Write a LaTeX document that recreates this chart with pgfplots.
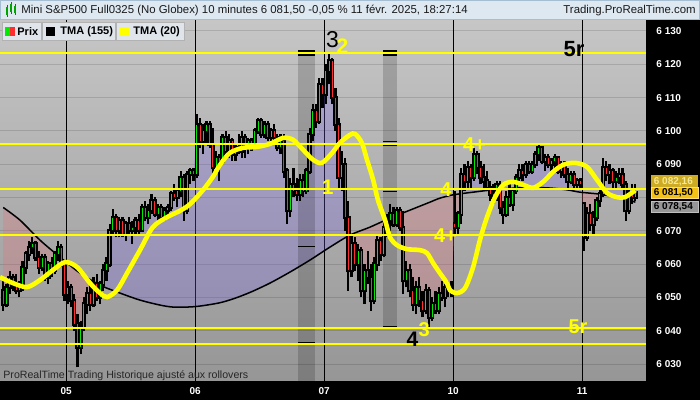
\documentclass[border=0pt]{standalone}
\usepackage{fontspec}
\setmainfont{Liberation Sans}
\usepackage{pgfplots}
\pgfplotsset{compat=1.18}
\usepackage{pgfplotstable}
\usepgfplotslibrary{fillbetween}

\newcommand\fs[1]{\fontsize{#1}{#1}\selectfont}

\definecolor{bgtop}{RGB}{198,198,198}
\definecolor{bgbot}{RGB}{150,150,150}
\definecolor{upgreen}{RGB}{0,235,0}
\definecolor{dnred}{RGB}{255,45,45}
\definecolor{tmayellow}{RGB}{255,255,0}
\definecolor{hdrblue}{RGB}{221,232,241}
\definecolor{hdrline}{RGB}{165,190,210}
\definecolor{legbox}{RGB}{223,229,235}
\definecolor{gold}{RGB}{244,192,20}
\definecolor{palegold}{RGB}{205,172,35}
\definecolor{paletext}{RGB}{245,232,150}
\definecolor{boxgray}{RGB}{150,150,150}
\definecolor{abovefill}{RGB}{120,100,230}
\definecolor{belowfill}{RGB}{230,110,120}

% 10 min bars, i = bar index (40 bars per session)
\pgfplotstableread{
i o h l c
0 6052 6055 6046 6048
1 6048 6054 6047 6053
2 6053 6058 6051 6056
3 6056 6057 6052 6054
4 6054 6057 6051 6052
5 6052 6055 6050 6053
6 6053 6061 6052 6059
7 6059 6064 6057 6063
8 6063 6067 6061 6065
9 6065 6068 6063 6066
10 6066 6067 6061 6062
11 6062 6064 6057 6059
12 6059 6063 6058 6062
13 6062 6063 6055 6056
14 6056 6061 6054 6060
15 6060 6062 6056 6058
16 6058 6064 6057 6063
17 6063 6067 6061 6065
18 6065 6066 6059 6060
19 6060 6061 6049 6051
20 6051 6055 6048 6053
21 6053 6054 6047 6049
22 6049 6051 6040 6042
23 6042 6045 6029 6035
24 6035 6043 6033 6041
25 6041 6050 6040 6048
26 6048 6053 6045 6051
27 6051 6055 6046 6048
28 6048 6056 6047 6054
29 6054 6057 6049 6050
30 6050 6055 6048 6054
31 6054 6060 6052 6058
32 6058 6062 6055 6060
33 6060 6072 6059 6070
34 6070 6076.5 6069 6074
35 6074 6075 6068 6070
36 6070 6074 6068 6073
37 6073 6074 6068 6069
38 6069 6073 6067 6072
39 6072 6074 6069 6070
40 6070 6073 6066 6071
41 6071 6074 6069 6073
42 6073 6075 6069 6070
43 6070 6078 6070 6077
44 6077 6079 6073 6074
45 6074 6078 6072 6076
46 6076 6081 6075 6079
47 6079 6080 6074 6075
48 6075 6078 6073 6077
49 6077 6078 6073 6074
50 6074 6077 6073 6076
51 6076 6078 6074 6077
52 6077 6082 6076 6081
53 6081 6084 6079 6080
54 6080 6083 6077 6082
55 6082 6088 6080 6086
56 6086 6087 6073 6076
57 6076 6088 6075 6087
58 6087 6089 6084 6088
59 6088 6089 6085 6087
60 6087 6105 6086 6102
61 6102 6104 6095 6097
62 6097 6102 6093 6100
63 6100 6103 6096 6102
64 6102 6103 6095 6096
65 6096 6101 6087 6089
66 6089 6094 6088 6092
67 6092 6093 6085 6091
68 6091 6099 6090 6098
69 6098 6100 6093 6094
70 6094 6099 6092 6097
71 6097 6098 6091 6093
72 6093 6096 6091 6095
73 6095 6099 6093 6094
74 6094 6100 6092 6098
75 6098 6099 6092 6096
76 6096 6098 6093 6097
77 6097 6098 6094 6096
78 6096 6101 6095 6100
79 6100 6104 6099 6103
80 6103 6104 6098 6099
81 6099 6103 6098 6102
82 6102 6103 6097 6098
83 6098 6101 6096 6100
84 6100 6102 6097 6098
85 6098 6099 6094 6095
86 6095 6099 6093 6097
87 6097 6099 6086 6088
88 6088 6089 6072 6076
89 6076 6086 6074 6084
90 6084 6089 6080 6082
91 6082 6086 6079 6081
92 6081 6087 6079 6085
93 6085 6087 6080 6082
94 6082 6089 6081 6088
95 6088 6101 6087 6099
96 6099 6108 6097 6106
97 6106 6108 6101 6103
98 6103 6116 6102 6114
99 6114 6116 6107 6111
100 6111 6120 6108 6118
101 6118 6123.4 6114 6121
102 6121 6122 6108 6110
103 6110 6113 6100 6102
104 6102 6104 6083 6086
105 6086 6094 6082 6090
106 6090 6092 6070 6074
107 6074 6079 6052 6058
108 6058 6069 6056 6066
109 6066 6068 6058 6060
110 6060 6066 6055 6064
111 6064 6065 6050 6052
112 6052 6060 6048 6058
113 6058 6064 6054 6056
114 6056 6060 6046 6049
115 6049 6062 6048 6060
116 6060 6069 6058 6067
117 6067 6068 6061 6063
118 6063 6073 6062 6071
119 6071 6075 6068 6073
120 6073 6078 6070 6075
121 6075 6077 6071 6072
122 6072 6077 6071 6076
123 6076 6077 6070 6071
124 6071 6076 6051 6055
125 6055 6061 6053 6058
126 6058 6060 6050 6052
127 6052 6056 6046 6048
128 6048 6055 6045 6053
129 6053 6056 6047 6049
130 6049 6052 6044 6046
131 6046 6054 6045 6052
132 6052 6053 6041 6044
133 6044 6050 6043 6048
134 6048 6052 6045 6046
135 6046 6053 6045 6051
136 6051 6055 6049 6050
137 6050 6054 6047 6053
138 6053 6055 6050 6052
139 6052 6055 6050 6053
140 6072 6082 6069 6071
141 6071 6076 6069 6075
142 6075 6089 6072 6087
143 6087 6090 6082 6085
144 6085 6091 6083 6089
145 6089 6090 6083 6086
146 6086 6095 6085 6093
147 6093 6094 6087 6089
148 6089 6091 6084 6086
149 6086 6090 6083 6085
150 6085 6088 6082 6083
151 6083 6085 6079 6081
152 6081 6084 6078 6080
153 6080 6085 6079 6084
154 6084 6085 6075 6077
155 6077 6079 6072 6075
156 6075 6082 6074 6080
157 6080 6084 6077 6078
158 6078 6083 6076 6082
159 6082 6087 6081 6086
160 6086 6090 6084 6088
161 6088 6090 6085 6087
162 6087 6091 6086 6090
163 6090 6091 6087 6088
164 6088 6091 6087 6090
165 6090 6094 6089 6093
166 6093 6096 6091 6095
167 6095 6095.5 6090 6091
168 6091 6093 6088 6092
169 6092 6093 6089 6090
170 6090 6092 6088 6091
171 6091 6093 6089 6092
172 6092 6092.5 6087 6088
173 6088 6091 6086 6090
174 6090 6091 6086 6087
175 6087 6089 6083 6085
176 6085 6088 6084 6087
177 6087 6088 6083 6084
178 6084 6086 6083 6085
179 6085 6086 6083 6084
180 6078 6078.5 6064 6068
181 6068 6077 6067 6075
182 6075 6078 6070 6072
183 6072 6076 6069 6074
184 6074 6080 6073 6079
185 6079 6083 6077 6081
186 6081 6092 6080 6089
187 6089 6091 6085 6087
188 6087 6090 6084 6088
189 6088 6089 6083 6085
190 6085 6088 6083 6086
191 6086 6089 6084 6087
192 6087 6089 6083 6084
193 6084 6085 6073 6076
194 6076 6083 6075 6081
195 6081 6084 6078 6080
196 6080 6084 6079 6081.5
}\candles

% TMA (20)
\pgfplotstableread{
i p
-1 6056.1
3.0 6054.3
7.4 6053.1
11.4 6055.2
15.4 6058.2
19.2 6060.6
22.9 6059.1
26.9 6054.3
30.0 6051.3
32.2 6050.1
35.3 6052.2
38.4 6057.3
42.4 6064.2
46.4 6071.1
50.8 6074.1
54.8 6076.0
57.9 6078.0
62.0 6082.3
65.0 6086.2
67.2 6089.8
70.3 6093.4
74.3 6094.9
78.7 6095.2
82.7 6096.1
86.8 6097.9
89.9 6097.3
93.0 6094.3
96.1 6091.3
98.8 6090.4
102.0 6093.4
104.4 6096.4
107.5 6098.8
109.1 6099.1
111.2 6096.4
112.8 6091.3
114.7 6085.3
116.2 6079.2
118.4 6073.2
119.9 6068.1
122.1 6065.7
125.2 6064.5
129.2 6064.2
131.4 6063.3
133.3 6060.3
135.4 6057.3
137.6 6054.3
138.5 6052.2
140.7 6051.3
143.2 6052.8
145.7 6059.1
147.8 6067.2
150.0 6074.1
152.5 6080.1
155.0 6083.8
158.1 6084.7
161.2 6083.8
164.3 6082.9
167.4 6084.7
170.5 6087.7
173.6 6089.8
177.3 6090.4
181.0 6089.2
184.1 6085.3
187.2 6081.4
190.3 6080.1
192.8 6080.1
196 6082.2
}\tmafast

% TMA (155)
\pgfplotstableread{
i p
0 6077.0
5.2 6073.2
11.4 6067.2
17.6 6062.1
23.8 6057.3
30.0 6053.7
36.2 6051.3
42.4 6049.2
48.6 6047.7
52.6 6047.1
57.0 6047.1
61.0 6047.4
67.2 6048.4
72.0 6049.8
77.0 6051.7
82.7 6054.3
88.9 6057.6
95.1 6061.2
101.3 6065.1
107.5 6068.7
113.7 6071.1
119.9 6073.8
126.1 6076.2
129.2 6077.4
132.3 6078.6
135.4 6079.8
139.5 6080.8
145.7 6081.6
151.9 6082.3
160.2 6082.9
168.6 6082.9
174.8 6082.3
178.8 6081.6
185.0 6081.0
191.2 6079.9
196 6078.6
}\tmaslow

\begin{document}
\begin{tikzpicture}
% frame of the window, in pixel units (700 x 400)
\begin{scope}[x=0.5pt,y=-0.5pt,yshift=190.5pt]
\fill[black] (646,20) rectangle (700,400);
\fill[black] (0,381) rectangle (700,400);
\fill[hdrblue] (0,0) rectangle (700,20);
\draw[hdrline] (0.5,0.5) rectangle (699.5,19.8);
\foreach \xx/\yt/\yb in {7/7/15,11/4/12,15/6/13}{
  \draw[black!70,line width=0.4pt] (\xx,\yt-2) -- (\xx,\yb+2);
  \fill[upgreen!70!black] (\xx-1.3,\yt) rectangle (\xx+1.3,\yb);
}
\node[anchor=west,inner sep=0,font=\fs{5.7},text=black!90] at (21,10.5)
  {Mini S\&P500 Full0325 (No Globex) 10 minutes 6 081,50 -0,05 \% 11 févr. 2025, 18:27:14};
\node[anchor=east,inner sep=0,font=\fs{5.7},text=black!90] at (696,10.5) {Trading.ProRealTime.com};
\end{scope}

\begin{axis}[
  scale only axis, width=323pt, height=180.5pt,
  xmin=-1, xmax=199.3, ymin=6024.9, ymax=6133.3,
  axis line style={draw=none},
  axis background/.style={top color=bgtop, bottom color=bgbot},
  xtick={19.5,59.5,99.5,139.5,179.5},
  xticklabels={05,06,07,10,11},
  xtick style={draw=none},
  xmajorgrids, x grid style={black, line width=0.5pt},
  ytick={6030,6040,...,6130},
  yticklabels={6 030,6 040,6 050,6 060,6 070,,6 090,6 100,6 110,6 120,6 130},
  ytick pos=right, yticklabel pos=right,
  tick align=outside, major tick length=2.5pt,
  ytick style={white, line width=0.5pt},
  ymajorgrids, y grid style={black, opacity=0.13, line width=0.5pt},
  ticklabel style={font=\fs{5}\bfseries, text=white},
  yticklabel style={xshift=-0.8pt},
  xticklabel style={yshift=2.6pt},
]
% hidden paths for the price / TMA(155) fill
\addplot[draw=none, name path=cl, forget plot] table[x=i, y=c] {\candles};
\addplot[draw=none, smooth, name path=tb, forget plot] table[x=i, y=p] {\tmaslow};
\addplot[draw=none, forget plot] fill between[of=cl and tb, split,
  every even segment/.style={fill=belowfill, fill opacity=0.28},
  every odd segment/.style={fill=abovefill, fill opacity=0.28}];

% time bands
\fill[black, opacity=0.17] (axis cs:91.4,6123.4) rectangle (axis cs:96.7,6024.9);
\fill[black, opacity=0.17] (axis cs:117.9,6123.4) rectangle (axis cs:122.0,6041.1);
\draw[black, line width=0.6pt] (axis cs:91.4,6122.8) -- (axis cs:96.7,6122.8);
\draw[black, line width=0.6pt] (axis cs:91.4,6124.0) -- (axis cs:96.7,6124.0);
\draw[black, line width=0.6pt] (axis cs:91.4,6065.4) -- (axis cs:96.7,6065.4);
\draw[black, line width=0.6pt] (axis cs:91.4,6036.4) -- (axis cs:96.7,6036.4);
\draw[black, line width=0.6pt] (axis cs:117.9,6122.8) -- (axis cs:122.0,6122.8);
\draw[black, line width=0.6pt] (axis cs:117.9,6124.0) -- (axis cs:122.0,6124.0);
\draw[black, line width=0.6pt] (axis cs:117.9,6095.5) -- (axis cs:122.0,6095.5);
\draw[black, line width=0.6pt] (axis cs:117.9,6096.7) -- (axis cs:122.0,6096.7);
\draw[black, line width=0.6pt] (axis cs:117.9,6081.9) -- (axis cs:122.0,6081.9);
\draw[black, line width=0.6pt] (axis cs:117.9,6041.1) -- (axis cs:122.0,6041.1);

\addplot[black, line width=0.75pt, smooth] table[x=i, y=p] {\tmaslow};

% candles: wicks, black bodies, coloured cores
\addplot[draw=none, mark=none, forget plot,
  error bars/.cd, y dir=plus, y explicit, error mark=none,
  error bar style={draw=black, line width=1.1pt}]
  table[x=i, y=l, y error plus expr={\thisrow{h}-\thisrow{l}}] {\candles};
\addplot[draw=none, mark=none, forget plot,
  error bars/.cd, y dir=plus, y explicit, error mark=none,
  error bar style={draw=black, line width=2.2pt}]
  table[x=i, y expr={min(\thisrow{o},\thisrow{c})-0.5},
        y error plus expr={abs(\thisrow{c}-\thisrow{o})+1.0}] {\candles};
\addplot[draw=none, mark=none, forget plot,
  restrict expr to domain={\thisrow{c}-\thisrow{o}}{0.2:1000},
  error bars/.cd, y dir=plus, y explicit, error mark=none,
  error bar style={draw=upgreen, line width=0.4pt}]
  table[x=i, y expr={\thisrow{o}+0.1}, y error plus expr={\thisrow{c}-\thisrow{o}-0.2}] {\candles};
\addplot[draw=none, mark=none, forget plot,
  restrict expr to domain={\thisrow{o}-\thisrow{c}}{0.2:1000},
  error bars/.cd, y dir=plus, y explicit, error mark=none,
  error bar style={draw=dnred, line width=0.4pt}]
  table[x=i, y expr={\thisrow{c}+0.1}, y error plus expr={\thisrow{o}-\thisrow{c}-0.2}] {\candles};

% horizontal levels
\addplot[tmayellow, line width=0.7pt, forget plot] coordinates {(-1,6123.4) (199.3,6123.4)};
\addplot[tmayellow, line width=0.7pt, forget plot] coordinates {(-1,6096.1) (199.3,6096.1)};
\addplot[tmayellow, line width=0.7pt, forget plot] coordinates {(-1,6082.6) (199.3,6082.6)};
\addplot[tmayellow, line width=0.7pt, forget plot] coordinates {(-1,6068.7) (199.3,6068.7)};
\addplot[tmayellow, line width=0.7pt, forget plot] coordinates {(-1,6040.8) (199.3,6040.8)};
\addplot[tmayellow, line width=0.7pt, forget plot] coordinates {(-1,6036.0) (199.3,6036.0)};

\addplot[tmayellow, line width=2.3pt, smooth] table[x=i, y=p] {\tmafast};

% wave labels
\node[font=\fs{11.5}, text=black] at (axis cs:102.1,6127.3) {3};
\node[font=\fs{10.5}\bfseries, text=tmayellow] at (axis cs:105.2,6125.4) {2};
\node[font=\fs{10.5}\bfseries, text=tmayellow] at (axis cs:100.6,6083.0) {1};
\node[font=\fs{10}\bfseries, text=tmayellow] at (axis cs:146.1,6095.9) {4+};
\node[font=\fs{10}\bfseries, text=tmayellow] at (axis cs:137.3,6082.3) {4};
\node[font=\fs{10}\bfseries, text=tmayellow] at (axis cs:137.1,6068.7) {4+};
\node[font=\fs{10}\bfseries, text=tmayellow] at (axis cs:130.5,6040.2) {3};
\node[font=\fs{10.5}\bfseries, text=black] at (axis cs:126.9,6037.4) {4};
\node[font=\fs{11}\bfseries, text=black] at (axis cs:177.0,6124.7) {5r};
\node[font=\fs{10}\bfseries, text=tmayellow] at (axis cs:178.2,6041.1) {5r};
\end{axis}

\begin{scope}[x=0.5pt,y=-0.5pt,yshift=190.5pt]
% legend row
\draw[fill=legbox, draw=black!30, line width=0.4pt] (2,22) rectangle (41,40);
\fill[upgreen] (5,27) rectangle (10,36);
\fill[dnred] (10,27) rectangle (15,36);
\node[anchor=west,inner sep=0,font=\fs{5.5}\bfseries] at (17,31.5) {Prix};
\draw[fill=legbox, draw=black!30, line width=0.4pt] (42,22) rectangle (115,40);
\fill[black] (46,27) rectangle (55,36);
\node[anchor=west,inner sep=0,font=\fs{5.5}\bfseries] at (60,31.5) {TMA (155)};
\draw[fill=legbox, draw=black!30, line width=0.4pt] (116,22) rectangle (184,40);
\fill[tmayellow] (119,27) rectangle (129,36);
\node[anchor=west,inner sep=0,font=\fs{5.5}\bfseries] at (133,31.5) {TMA (20)};
% last values
\fill[palegold] (651,175) rectangle (698,187);
\node[anchor=west,inner sep=0,font=\fs{5}\bfseries,text=paletext] at (653.5,182) {6 082,16};
\draw[fill=gold, draw=gold!55!white, line width=0.4pt] (651,187) rectangle (698,198);
\node[anchor=west,inner sep=0,font=\fs{5}\bfseries,text=black] at (653.5,192.5) {6 081,50};
\draw[fill=boxgray, draw=white!75!black, line width=0.4pt] (651,201) rectangle (698,212);
\node[anchor=west,inner sep=0,font=\fs{5}\bfseries,text=black] at (653.5,206.5) {6 078,54};
% footnote
\node[anchor=west,inner sep=0,font=\fs{5.3},text=black!85] at (3,376)
  {ProRealTime Trading Historique ajusté aux rollovers};
\end{scope}
\pgfresetboundingbox
\path[use as bounding box] (0,-9.5pt) rectangle (350pt,190.5pt);
\end{tikzpicture}
\end{document}
